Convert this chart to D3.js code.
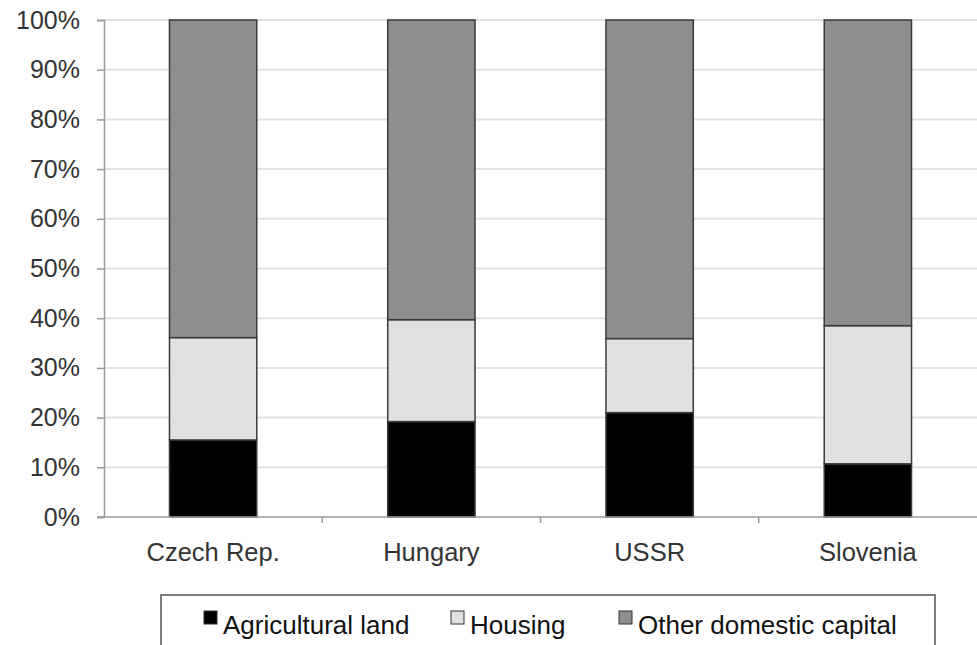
<!DOCTYPE html>
<html><head><meta charset="utf-8">
<script src="https://cdn.jsdelivr.net/npm/d3@7"></script>
<style>body{margin:0;background:#fff;} svg{display:block;font-family:"Liberation Sans",Arial,sans-serif;}</style>
</head><body>
<svg id="c" width="977" height="645"></svg>
<script>
const categories = ["Czech Rep.", "Hungary", "USSR", "Slovenia"];
const seriesNames = ["Agricultural land", "Housing", "Other domestic capital"];
const agricultural = [15.5, 19.2, 21.0, 10.7];
const housing = [20.6, 20.5, 14.9, 27.8];
const other = [63.9, 60.3, 64.1, 61.5];
const yTicks = [0, 10, 20, 30, 40, 50, 60, 70, 80, 90, 100];
const colors = ["#000000", "#e0e0e0", "#8e8e8e"];

const svg = d3.select("#c");
const m = {left: 104, right: 977, top: 20, bottom: 517};
const x = d3.scaleBand().domain(categories).range([m.left, m.right]).paddingInner(0.6).paddingOuter(0.3);
const xb = d3.scaleBand().domain(categories).range([m.left, m.right]);
const y = d3.scaleLinear().domain([0, 100]).range([m.bottom, m.top]);

// gridlines
svg.append("g").selectAll("line").data(yTicks.slice(1)).join("line")
  .attr("x1", m.left).attr("x2", m.right)
  .attr("y1", d => y(d)).attr("y2", d => y(d))
  .attr("stroke", "#e2e2e2").attr("stroke-width", 2);

// y axis
const ya = svg.append("g").attr("transform", `translate(${m.left},0)`)
  .call(d3.axisLeft(y).tickValues(yTicks).tickFormat(d => d + "%").tickSize(7).tickPadding(17));
ya.select(".domain").attr("stroke", "#9a9a9a").attr("stroke-width", 1.5);
ya.selectAll(".tick line").attr("stroke", "#9a9a9a").attr("stroke-width", 1.5);
ya.selectAll("text").attr("font-size", 25).attr("fill", "#333").attr("font-family", "Liberation Sans, Arial, sans-serif");

// stacked data
const rows = categories.map((c, i) => ({cat: c, a: agricultural[i], h: housing[i], o: other[i]}));
const stack = d3.stack().keys(["a", "h", "o"])(rows);

svg.append("g").selectAll("g").data(stack).join("g")
  .attr("fill", (d, i) => colors[i])
  .selectAll("rect").data(d => d).join("rect")
  .attr("x", d => x(d.data.cat))
  .attr("width", x.bandwidth())
  .attr("y", d => y(d[1]))
  .attr("height", d => y(d[0]) - y(d[1]))
  .attr("stroke", "#3a3a3a").attr("stroke-width", 1.5);

// x axis
const xa = svg.append("g").attr("transform", `translate(0,${m.bottom})`)
  .call(d3.axisBottom(xb).tickSize(0).tickPadding(26));
xa.select(".domain").attr("stroke", "#9a9a9a").attr("stroke-width", 1.5).attr("d", `M${m.left - 7},0H${m.right}`);
xa.selectAll("text").attr("font-size", 25.5).attr("fill", "#333").attr("font-family", "Liberation Sans, Arial, sans-serif");
// category boundary ticks
svg.append("g").selectAll("line").data(categories.slice(1)).join("line")
  .attr("x1", d => xb(d)).attr("x2", d => xb(d))
  .attr("y1", m.bottom).attr("y2", m.bottom + 6)
  .attr("stroke", "#9a9a9a").attr("stroke-width", 1.5);

// legend
const lg = svg.append("g");
lg.append("rect").attr("x", 161).attr("y", 595).attr("width", 774).attr("height", 60)
  .attr("fill", "#fff").attr("stroke", "#555").attr("stroke-width", 1.5);
const legX = [204, 451, 619];
seriesNames.forEach((n, i) => {
  lg.append("rect").attr("x", legX[i]).attr("y", 611).attr("width", 13).attr("height", 13)
    .attr("fill", colors[i]).attr("stroke", "#333").attr("stroke-width", 1);
  lg.append("text").attr("x", legX[i] + 19).attr("y", 634).text(n)
    .attr("font-size", 26).attr("fill", "#111");
});
</script>
</body></html>
